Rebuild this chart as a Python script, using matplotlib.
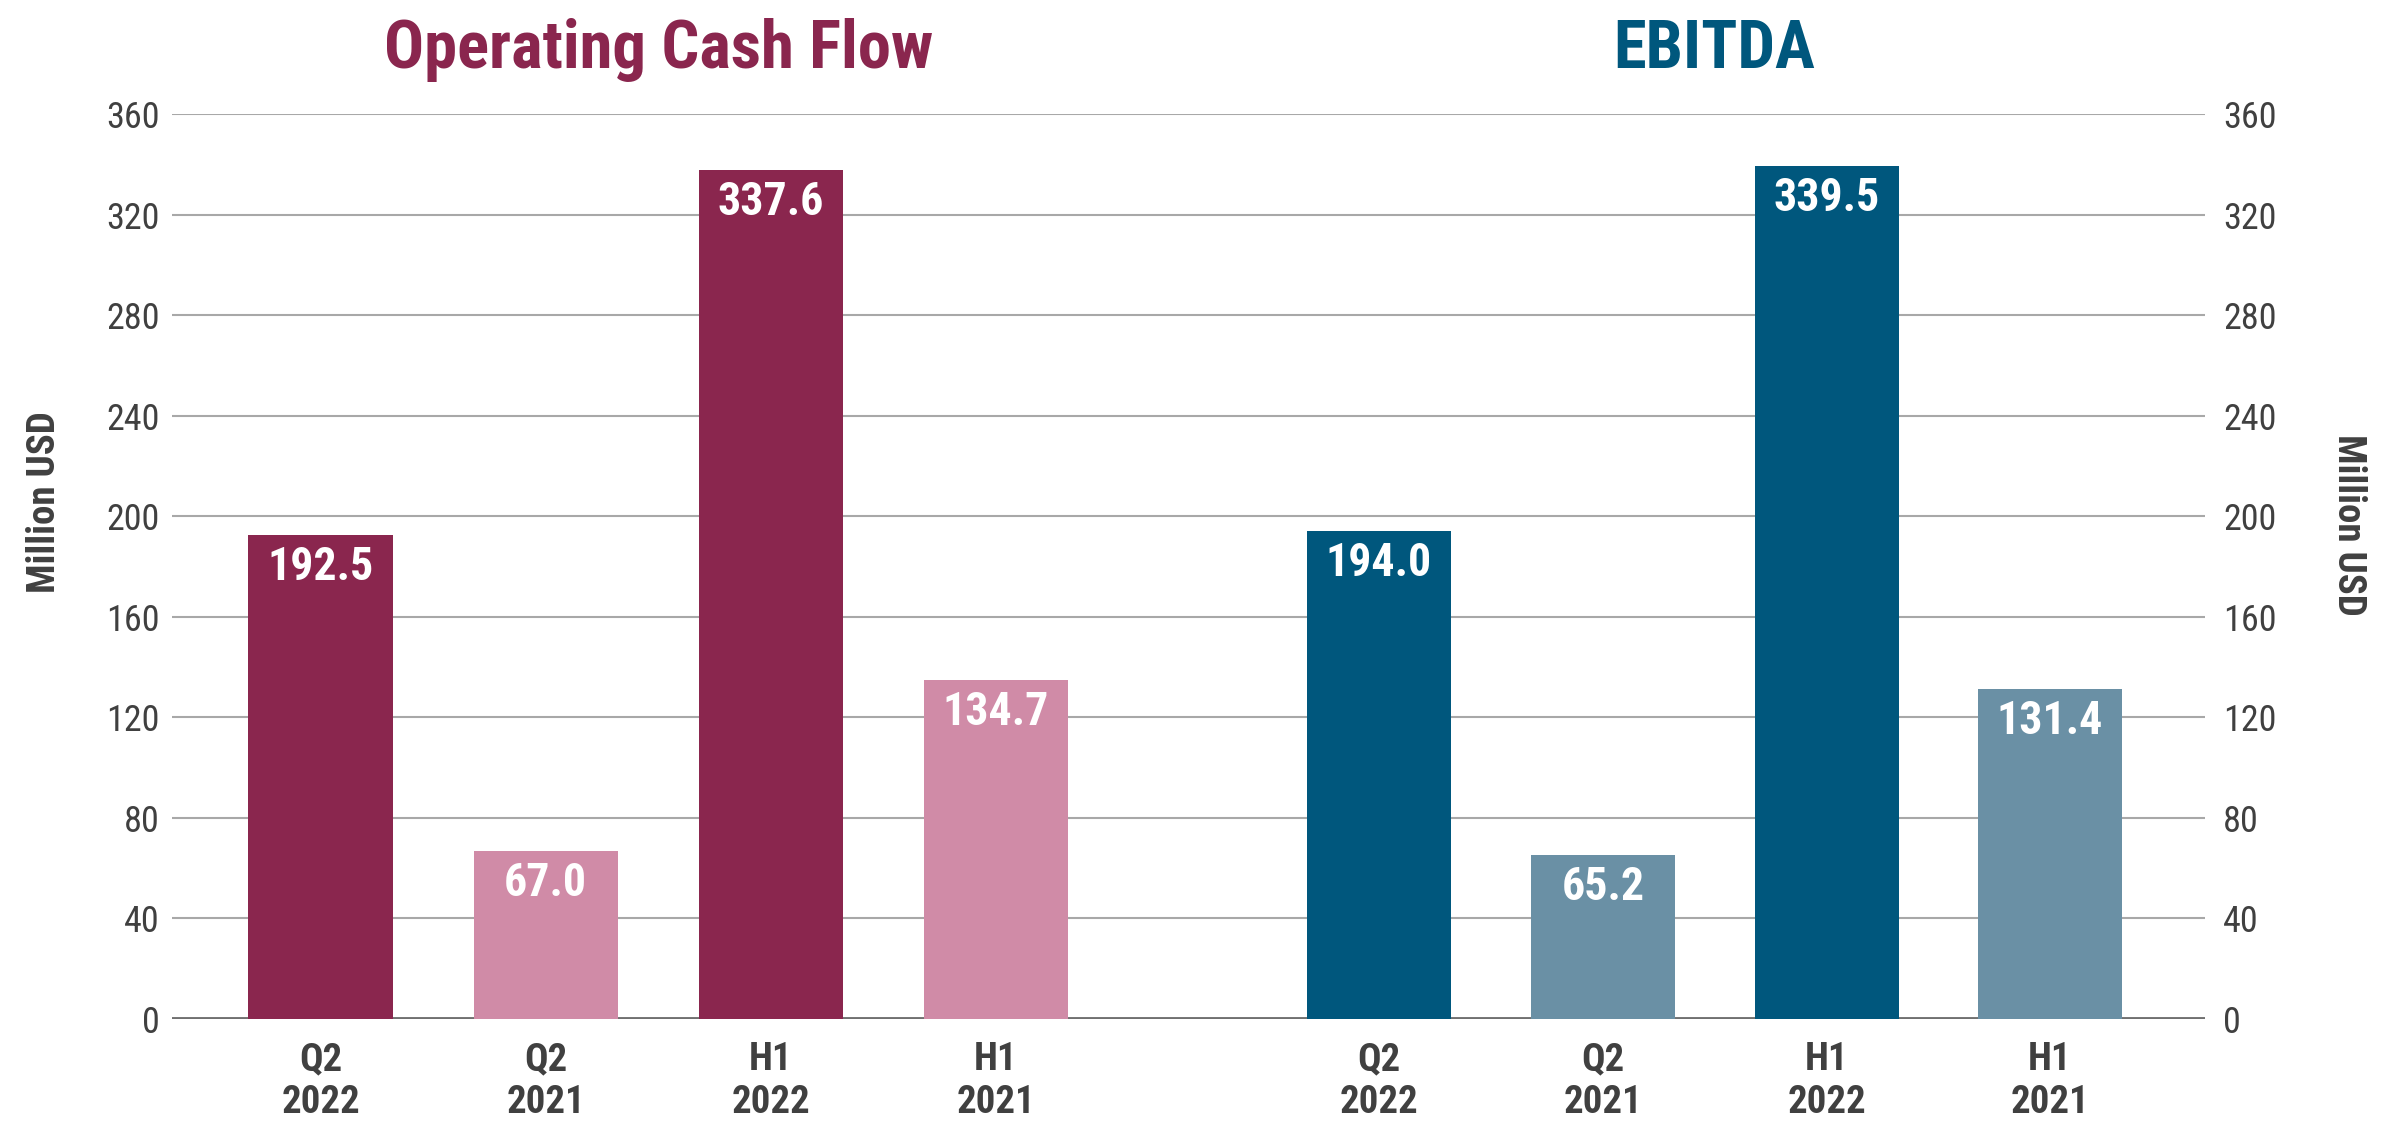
import matplotlib
matplotlib.use("Agg")
import matplotlib.pyplot as plt
from matplotlib import font_manager

# ---- data ----
categories = ["Q2\n2022", "Q2\n2021", "H1\n2022", "H1\n2021"]
ocf_values = [192.5, 67.0, 337.6, 134.7]
ebitda_values = [194.0, 65.2, 339.5, 131.4]
titles = ["Operating Cash Flow", "EBITDA"]
y_ticks = [0, 40, 80, 120, 160, 200, 240, 280, 320, 360]
y_label = "Million USD"

# ---- style ----
avail = {f.name for f in font_manager.fontManager.ttflist}
fam = [f for f in ["Roboto Condensed", "Liberation Sans Narrow", "DejaVu Sans"] if f in avail]
plt.rcParams["font.family"] = fam

ocf_colors = ["#8A264E", "#D08BA7", "#8A264E", "#D08BA7"]
ebitda_colors = ["#00577D", "#6A90A5", "#00577D", "#6A90A5"]
text_gray = "#404040"

fig = plt.figure(figsize=(23.84, 11.27), dpi=100)
ax = fig.add_axes([0.0721, 0.0958, 0.925 - 0.0721, 0.8988 - 0.0958])

x_ocf = [0, 1, 2, 3]
x_ebit = [4.7, 5.695, 6.69, 7.68]
w = 0.64

bars1 = ax.bar(x_ocf, ocf_values, width=w, color=ocf_colors, zorder=3)
bars2 = ax.bar(x_ebit, ebitda_values, width=w, color=ebitda_colors, zorder=3)

for bars, vals in [(bars1, ocf_values), (bars2, ebitda_values)]:
    for b, v in zip(bars, vals):
        ax.annotate(f"{v:.1f}", (b.get_x() + b.get_width() / 2, v),
                    xytext=(0, -23), textcoords="offset points",
                    ha="center", va="center", color="white",
                    fontsize=33, fontweight="bold", zorder=4)

ax.set_xlim(-0.66, 8.37)
ax.set_ylim(0, 360)
ax.set_yticks(y_ticks)
ax.set_yticklabels([str(t) for t in y_ticks])
ax.set_xticks(x_ocf + x_ebit)
ax.set_xticklabels(categories * 2, fontsize=28, fontweight="bold", color=text_gray,
                   linespacing=1.2)
ax.tick_params(axis="x", length=0, pad=16)
ax.tick_params(axis="y", length=0, pad=9, labelsize=26, labelcolor=text_gray)

for s in ax.spines.values():
    s.set_visible(False)
ax.grid(axis="y", color="#A8A8A8", linewidth=1.5, zorder=0)
ax.axhline(0, color="#707070", linewidth=3.5, zorder=2)

ax2 = ax.twinx()
ax2.set_ylim(0, 360)
ax2.set_yticks(y_ticks)
ax2.set_yticklabels([str(t) for t in y_ticks])
ax2.tick_params(axis="y", length=0, pad=13, labelsize=26, labelcolor=text_gray)
for s in ax2.spines.values():
    s.set_visible(False)

# titles
ax.text(sum(x_ocf) / 4, 1.035, titles[0], transform=ax.get_xaxis_transform(),
        ha="center", va="bottom", fontsize=48, fontweight="bold", color="#8A264E")
ax.text(sum(x_ebit) / 4, 1.035, titles[1], transform=ax.get_xaxis_transform(),
        ha="center", va="bottom", fontsize=48, fontweight="bold", color="#00577D")

fig.text(45 / 2384, 1 - 502 / 1127, y_label, rotation=90, ha="center", va="center",
         fontsize=28, fontweight="bold", color=text_gray)
fig.text(2349 / 2384, 1 - 525 / 1127, y_label, rotation=270, ha="center", va="center",
         fontsize=28, fontweight="bold", color=text_gray)

fig.savefig("out.png", dpi=100, facecolor="white")
